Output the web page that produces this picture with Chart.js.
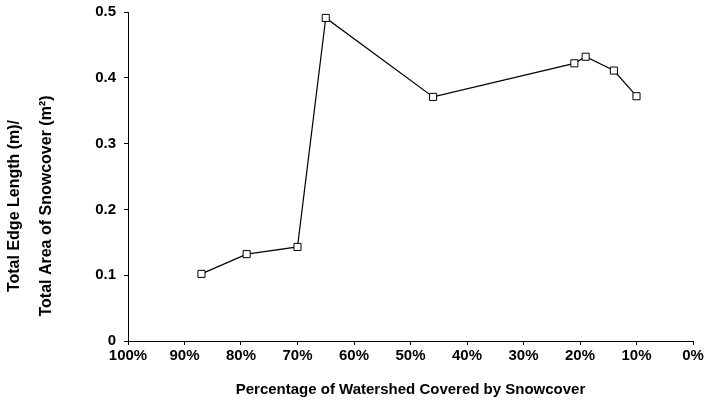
<!DOCTYPE html>
<html>
<head>
<meta charset="utf-8">
<script src="https://cdn.jsdelivr.net/npm/chart.js@4/dist/chart.umd.min.js"></script>
<style>
  html, body { margin: 0; padding: 0; background: #fff; }
  #wrap { width: 708px; height: 408px; position: relative; }
</style>
</head>
<body>
<div id="wrap"><canvas id="snowChart" width="708" height="408"></canvas></div>
<script>
// data
const coverPct = [87, 79, 70, 65, 46, 21, 19, 14, 10];
const edgeRatio = [0.102, 0.132, 0.143, 0.491, 0.371, 0.422, 0.432, 0.411, 0.372];
const yTitleLines = ['Total Edge Length (m)/', 'Total Area of Snowcover (m\u00b2)'];
const xTitle = 'Percentage of Watershed Covered by Snowcover';

const FONT = '"Liberation Sans", Arial, sans-serif';

// y title drawn as two rotated lines, spaced like the original
const yTitlePlugin = {
  id: 'yTitle',
  afterDraw(chart) {
    const ctx = chart.ctx;
    ctx.save();
    ctx.fillStyle = '#000';
    ctx.font = 'bold 16px ' + FONT;
    ctx.textAlign = 'center';
    ctx.textBaseline = 'middle';
    const xs = [15, 47];
    yTitleLines.forEach((line, i) => {
      ctx.save();
      ctx.translate(xs[i], 206);
      ctx.rotate(-Math.PI / 2);
      ctx.fillText(line, 0, 0);
      ctx.restore();
    });
    ctx.restore();
  }
};

const points = coverPct.map((x, i) => ({ x: x, y: edgeRatio[i] }));

new Chart(document.getElementById('snowChart').getContext('2d'), {
  type: 'scatter',
  data: {
    datasets: [{
      data: points,
      showLine: true,
      borderColor: '#000',
      borderWidth: 1.2,
      pointStyle: 'rect',
      pointRadius: 5,
      pointHoverRadius: 5,
      pointBackgroundColor: '#fff',
      pointBorderColor: '#000',
      pointBorderWidth: 1
    }]
  },
  options: {
    responsive: false,
    animation: false,
    events: [],
    layout: { padding: { top: 12, right: 15, left: 0, bottom: 0 } },
    plugins: { legend: { display: false }, tooltip: { enabled: false } },
    scales: {
      x: {
        type: 'linear',
        min: 0,
        max: 100,
        reverse: true,
        afterFit: s => { s.height = 67; },
        border: { display: true, color: '#000', width: 1 },
        grid: { display: true, drawOnChartArea: false, drawTicks: true, tickLength: 4, color: '#000' },
        ticks: {
          stepSize: 10,
          padding: 2,
          color: '#000',
          font: { family: FONT, size: 15, weight: 'bold' },
          maxRotation: 0,
          autoSkip: false,
          callback: v => v + '%'
        },
        title: {
          display: true,
          text: xTitle,
          color: '#000',
          font: { family: FONT, size: 15, weight: 'bold' },
          padding: { top: 0, bottom: 9 }
        }
      },
      y: {
        type: 'linear',
        min: 0,
        max: 0.5,
        // fixed width, and no extra top gap from the label padding
        afterFit: s => { s.width = 128; s.paddingTop = 0; },
        border: { display: true, color: '#000', width: 1 },
        grid: { display: true, drawOnChartArea: false, drawTicks: true, tickLength: 4, color: '#000' },
        ticks: {
          stepSize: 0.1,
          padding: 8,
          color: '#000',
          font: { family: FONT, size: 15, weight: 'bold' },
          callback: v => (v === 0 ? '0' : v.toFixed(1))
        }
      }
    }
  },
  plugins: [yTitlePlugin]
});
</script>
</body>
</html>
